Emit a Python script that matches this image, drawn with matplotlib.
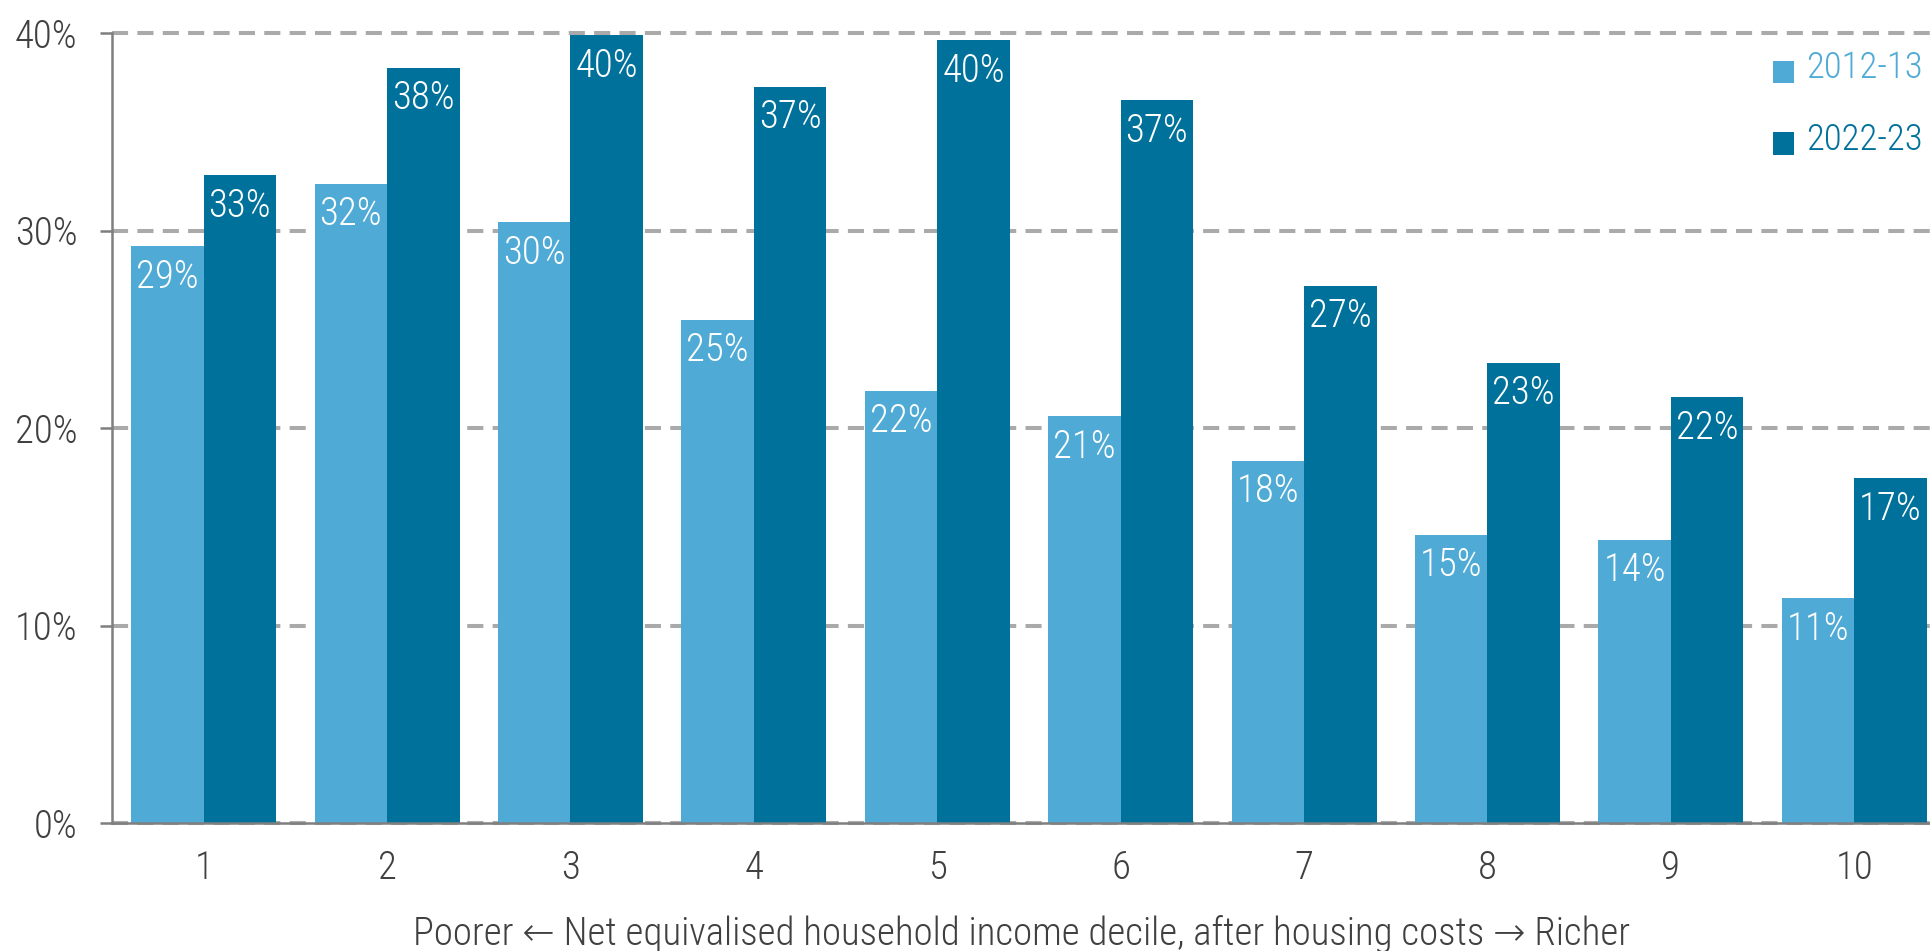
import matplotlib
matplotlib.use("Agg")
import matplotlib.pyplot as plt
import numpy as np

# Share of people in each income decile, two survey years (%)
deciles = [1, 2, 3, 4, 5, 6, 7, 8, 9, 10]
share_2012 = [29.2, 32.37, 30.42, 25.47, 21.89, 20.59, 18.33, 14.6, 14.34, 11.38]
share_2022 = [32.8, 38.22, 39.88, 37.26, 39.63, 36.59, 27.19, 23.29, 21.55, 17.45]
series_names = ["2012-13", "2022-23"]
y_ticks = [0, 10, 20, 30, 40]
x_title = "Poorer \u2190 Net equivalised household income decile, after housing costs \u2192 Richer"

light_blue = "#4fabd5"
dark_blue = "#00719b"
axis_grey = "#7f7f7f"
grid_grey = "#aaaaaa"
text_grey = "#404040"

plt.rcParams["font.family"] = ["Roboto Condensed", "Roboto", "DejaVu Sans"]
plt.rcParams["font.weight"] = "light"
fs = 28
legend_fs = 26.5

W, H = 1931, 951
fig = plt.figure(figsize=(W / 100, H / 100), dpi=100)
ax = fig.add_axes([112 / W, (H - 823) / H, (W - 112) / W, (823 - 33) / H])

x = np.array(deciles, dtype=float)
bw = 0.395
bars_a = ax.bar(x - bw / 2, share_2012, bw, color=light_blue, label=series_names[0], zorder=2)
bars_b = ax.bar(x + bw / 2, share_2022, bw, color=dark_blue, label=series_names[1], zorder=2)

# value labels sit just inside the top of each bar
for bars, vals in ((bars_a, share_2012), (bars_b, share_2022)):
    for rect, v in zip(bars, vals):
        ax.annotate(f"{round(v):d}%", (rect.get_x() + rect.get_width() / 2, v),
                    xytext=(0, -22), textcoords="offset points",
                    ha="center", va="center", color="white", fontsize=fs, zorder=3)

ax.set_xlim(0.5, 0.5 + (W - 112) / 183.4)
ax.set_ylim(0, 40)
ax.set_yticks(y_ticks)
ax.set_yticklabels([f"{t}%" for t in y_ticks])
ax.set_xticks(deciles)
ax.set_xticklabels([str(d) for d in deciles])

ax.yaxis.grid(True, color=grid_grey, linewidth=2.9, linestyle=(0, (4, 2.3)), zorder=1)
for gl in ax.get_ygridlines():
    gl.set_clip_on(False)
ax.set_axisbelow(True)

for side in ("top", "right"):
    ax.spines[side].set_visible(False)
for side in ("left", "bottom"):
    ax.spines[side].set_color(axis_grey)
    ax.spines[side].set_linewidth(1.8)

ax.tick_params(axis="y", length=9, width=1.8, color=axis_grey, pad=16,
               labelsize=fs, labelcolor=text_grey)
ax.tick_params(axis="x", length=0, pad=19, labelsize=fs, labelcolor=text_grey)

fig.text((112 + W) / 2 / W, 6 / H, x_title, ha="center", va="baseline",
         fontsize=fs, color=text_grey)

leg = ax.legend(loc="upper left", bbox_to_anchor=(1773 / W, 1 - 50 / H),
                bbox_transform=fig.transFigure, frameon=False, fontsize=legend_fs,
                handlelength=0.57, handleheight=0.57, handletextpad=0.32,
                labelspacing=0.97, borderpad=0, borderaxespad=0)
for txt, c in zip(leg.get_texts(), (light_blue, dark_blue)):
    txt.set_color(c)
# sit the colour squares a little lower against the label text
for patch in leg.legend_handles:
    patch.set_y(patch.get_y() - 5)

fig.savefig("out.png", dpi=100)
